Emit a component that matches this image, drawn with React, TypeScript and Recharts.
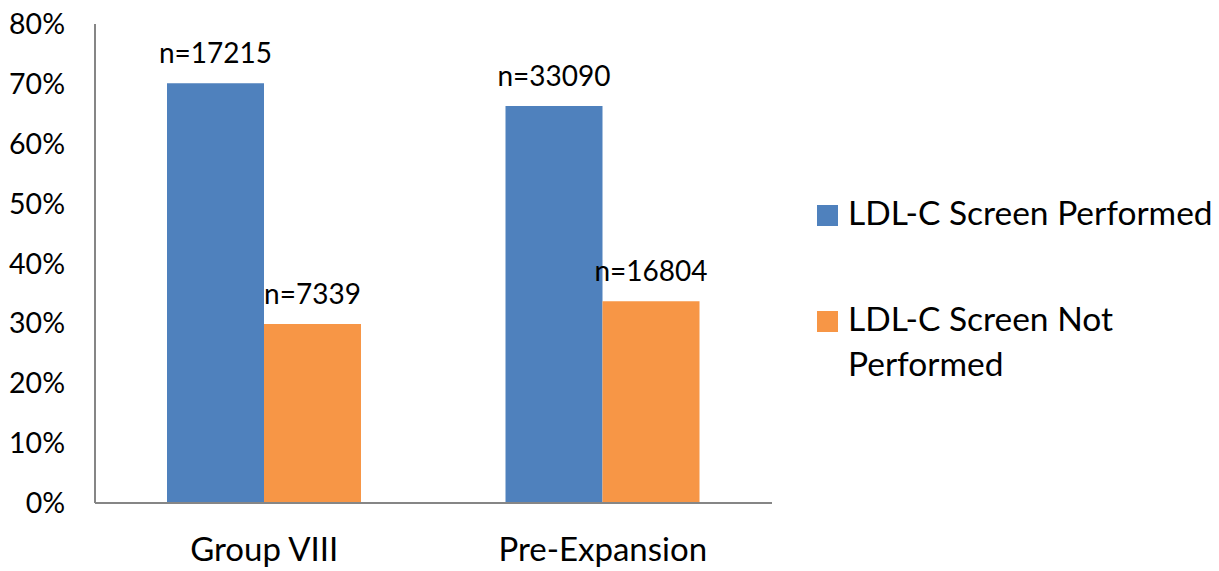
import { BarChart, Bar, XAxis, YAxis, Legend, LabelList } from "recharts";

const FONT = "Lato, 'Liberation Sans', sans-serif";
const BLUE = "#4F81BD";
const ORANGE = "#F79646";

const CATEGORIES = ["Group VIII", "Pre-Expansion"];
const PERFORMED_N = [17215, 33090];
const NOT_PERFORMED_N = [7339, 16804];
const Y_TICKS = [0, 0.1, 0.2, 0.3, 0.4, 0.5, 0.6, 0.7, 0.8];
const SERIES_NAMES = ["LDL-C Screen Performed", "LDL-C Screen Not Performed"];

// share of each group, taken from the counts printed on the bars
const chartData = CATEGORIES.map((name, i) => {
  const total = PERFORMED_N[i] + NOT_PERFORMED_N[i];
  return {
    name,
    performed: PERFORMED_N[i] / total,
    notPerformed: NOT_PERFORMED_N[i] / total,
    performedLabel: `n=${PERFORMED_N[i]}`,
    notPerformedLabel: `n=${NOT_PERFORMED_N[i]}`,
  };
});

const LegendBlock = () => (
  <div style={{ fontFamily: FONT, fontSize: 33.5, lineHeight: "45px", color: "#000" }}>
    {SERIES_NAMES.map((label, i) => (
      <div key={label} style={{ display: "flex", alignItems: "flex-start", marginTop: i === 0 ? 0 : 61 }}>
        <span
          style={{
            width: 21,
            height: 21,
            marginTop: 15,
            marginRight: 10,
            flex: "none",
            background: i === 0 ? BLUE : ORANGE,
          }}
        />
        <span style={{ width: 372, textAlign: "left" }}>{label}</span>
      </div>
    ))}
  </div>
);

export default function App() {
  return (
    <div style={{ width: 1219, height: 571, background: "#fff" }}>
      <style>{`body{margin:0}`}</style>
      <BarChart
        width={1219}
        height={571}
        data={chartData}
        margin={{ top: 24, right: 447, left: 0, bottom: 38 }}
        barGap={0}
      >
        <XAxis
          dataKey="name"
          height={30}
          axisLine={{ stroke: "#868686", strokeWidth: 2 }}
          tickLine={false}
          tickSize={0}
          tickMargin={35}
          tick={{ fontSize: 33, fill: "#000", fontFamily: FONT }}
          interval={0}
        />
        <YAxis
          width={95}
          domain={[0, 0.8]}
          ticks={Y_TICKS}
          interval={0}
          tickFormatter={(v: number) => `${Math.round(v * 100)}%`}
          axisLine={{ stroke: "#868686", strokeWidth: 2 }}
          tickLine={false}
          tickSize={0}
          tickMargin={30}
          tick={{ fontSize: 28.5, fill: "#000", fontFamily: FONT }}
        />
        <Legend
          layout="horizontal"
          verticalAlign="middle"
          align="center"
          content={<LegendBlock />}
          wrapperStyle={{ position: "absolute", left: 817, top: 190, width: 400 }}
        />
        <Bar dataKey="performed" name={SERIES_NAMES[0]} fill={BLUE} barSize={97} isAnimationActive={false}>
          <LabelList
            dataKey="performedLabel"
            position="top"
            offset={20}
            style={{ fontSize: 28, fill: "#000", fontFamily: FONT }}
          />
        </Bar>
        <Bar dataKey="notPerformed" name={SERIES_NAMES[1]} fill={ORANGE} barSize={97} isAnimationActive={false}>
          <LabelList
            dataKey="notPerformedLabel"
            position="top"
            offset={20}
            style={{ fontSize: 28, fill: "#000", fontFamily: FONT }}
          />
        </Bar>
      </BarChart>
    </div>
  );
}
